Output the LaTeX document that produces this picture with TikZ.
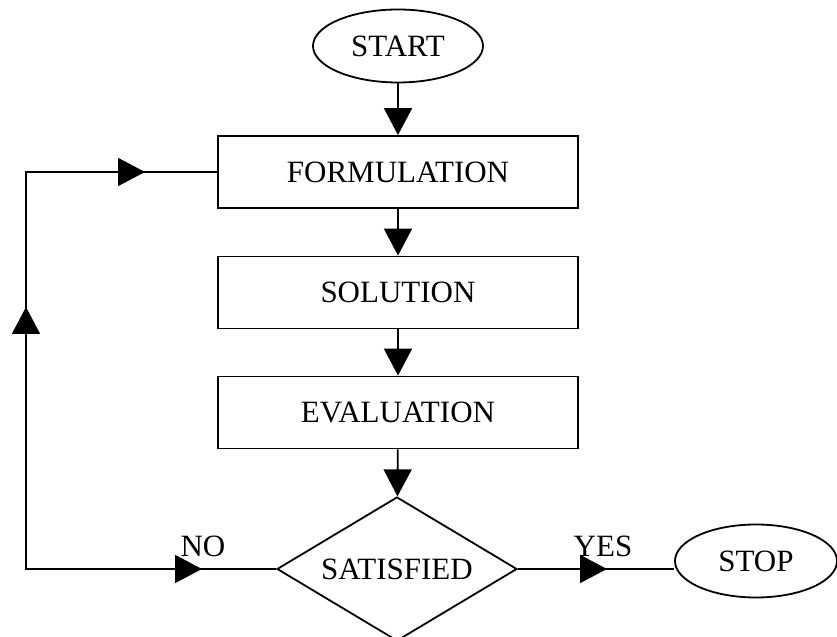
\documentclass[tikz,border=0pt]{standalone}
\usepackage{fontspec}
\setmainfont{Liberation Serif}
\usetikzlibrary{shapes.geometric,arrows.meta}

\tikzset{
  box/.style={draw, line width=0.9pt, minimum width=180pt, minimum height=36pt, inner sep=0pt},
  term/.style={draw, ellipse, line width=0.9pt, inner sep=0pt},
  decision/.style={draw, diamond, aspect=1.667, line width=0.9pt, minimum width=120pt, minimum height=72pt, inner sep=0pt},
  link/.style={line width=0.9pt},
  tri/.style={link, -{Triangle[length=13.5pt,width=14pt]}}
}

\begin{document}
\begin{tikzpicture}[x=25pt,y=25pt,font=\fontsize{15.5}{18}\selectfont]

\useasboundingbox (0,0) rectangle (16.74,12.74);

\node[term, minimum width=85pt, minimum height=36.5pt] (start) at (7.96,11.82) {START};
\node[box] (form) at (7.96,9.30) {FORMULATION};
\node[box] (sol) at (7.96,6.89) {SOLUTION};
\node[box] (eval) at (7.96,4.49) {EVALUATION};
\node[decision] (sat) at (7.94,1.36) {SATISFIED};
\node[term, minimum width=81pt, minimum height=36.5pt] (stop) at (15.12,1.52) {STOP};

\draw[tri] (start) -- (form);
\draw[tri] (form) -- (sol);
\draw[tri] (sol) -- (eval);
\draw[tri] (eval) -- (sat);

% loop back
\coordinate (bl) at (0.52,1.36);
\coordinate (tl) at (0.52,9.30);
\coordinate (noTip) at (4.04,1.36);
\coordinate (upTip) at (0.52,6.60);
\coordinate (backTip) at (2.90,9.30);
\coordinate (yesTip) at (12.14,1.36);

\draw[link] (sat.west) -- (bl) -- (tl) -- (form.west);
\draw[tri] (bl) -- (noTip);
\draw[tri] (bl) -- (upTip);
\draw[tri] (tl) -- (backTip);

\draw[link] (sat.east) -- (stop.west |- sat.east);
\draw[tri] (sat.east) -- (yesTip);

\node (no) at (4.06,1.82) {NO};
\node (yes) at (12.06,1.82) {YES};

\end{tikzpicture}
\end{document}
